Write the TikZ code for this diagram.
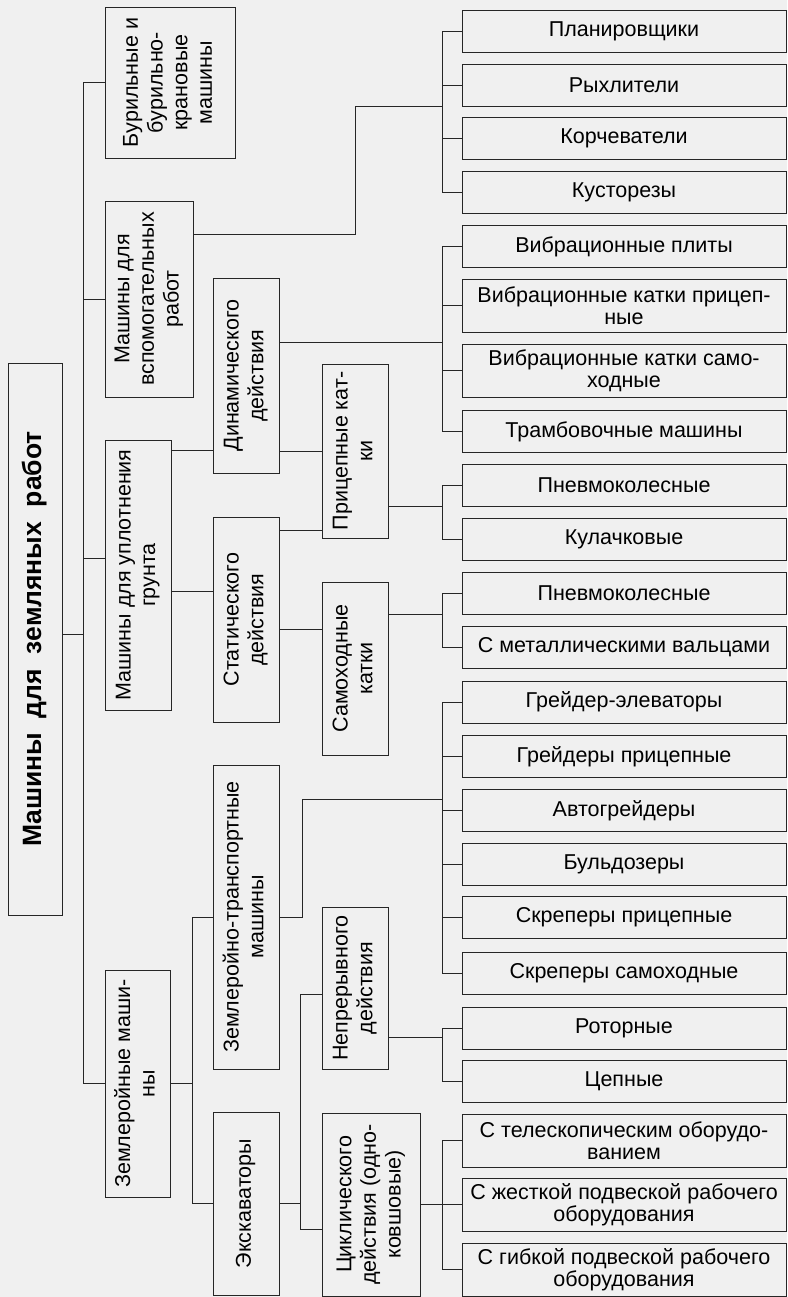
\documentclass[tikz,border=0pt]{standalone}
\usepackage{fontspec}
\setmainfont{Liberation Sans}
\usepackage{graphicx}

\newcommand{\vlab}[1]{\rotatebox{90}{\begin{tabular}{@{}c@{}}#1\end{tabular}}}

\tikzset{
  box/.style={draw=black!85, line width=0.9pt, inner sep=0pt, align=center},
  rbox/.style={box, minimum width=324pt, minimum height=42pt},
  rrbox/.style={rbox, minimum height=53pt},
  link/.style={draw=black!85, line width=0.9pt},
}

\begin{document}
\begin{tikzpicture}[x=1pt, y=-1pt, font=\fontsize{21.5}{22}\selectfont]
    \fill[black!6] (0,0) rectangle (787,1297);
    \useasboundingbox (0,0) rectangle (787,1297);
    \renewcommand{\arraystretch}{1.12}

    % left part, text turned upwards
    \node[box, minimum width=54pt, minimum height=552pt] (root) at (35,639)
        {\vlab{\fontsize{26.5}{28}\selectfont\bfseries Машины\ \ для\ \ земляных\ \ работ}};
    \node[box, minimum width=130pt, minimum height=151pt] (bur) at (170,82.5)
        {\vlab{Бурильные и\\бурильно-\\крановые\\машины}};
    \node[box, minimum width=88pt, minimum height=196pt] (vsp) at (149,299)
        {\vlab{Машины для\\вспомогательных\\работ}};
    \node[box, minimum width=66pt, minimum height=270pt] (upl) at (138,575)
        {\vlab{Машины для уплотнения\\грунта}};
    \node[box, minimum width=65pt, minimum height=227pt] (zem) at (137.5,1083.5)
        {\vlab{Землеройные маши-\\ны}};
    \node[box, minimum width=66pt, minimum height=195pt] (din) at (246,375.5)
        {\vlab{Динамического\\действия}};
    \node[box, minimum width=66pt, minimum height=205pt] (stat) at (246,619.5)
        {\vlab{Статического\\действия}};
    \node[box, minimum width=66pt, minimum height=304pt] (zt) at (246,917)
        {\vlab{Землеройно-транспортные\\машины}};
    \node[box, minimum width=66pt, minimum height=183pt] (exc) at (246,1203.5)
        {\vlab{Экскаваторы}};
    \node[box, minimum width=66pt, minimum height=174pt] (pric) at (355,451)
        {\vlab{Прицепные кат-\\ки}};
    \node[box, minimum width=66pt, minimum height=173pt] (samo) at (355,668.5)
        {\vlab{Самоходные\\катки}};
    \node[box, minimum width=66pt, minimum height=162pt] (nepr) at (355,988)
        {\vlab{Непрерывного\\действия}};
    \node[box, minimum width=98pt, minimum height=183pt] (cikl) at (371,1204.5)
        {\vlab{Циклического\\действия (одно-\\ковшовые)}};

    % right column
    \node[rbox] (r1) at (624,31) {Планировщики};
    \node[rbox] (r2) at (624,85) {Рыхлители};
    \node[rbox] (r3) at (624,138) {Корчеватели};
    \node[rbox] (r4) at (624,192.5) {Кусторезы};
    \node[rbox] (r5) at (624,246.5) {Вибрационные плиты};
    \node[rrbox] (r6) at (624,305.5) {Вибрационные катки прицеп-\\ные};
    \node[rrbox] (r7) at (624,370.5) {Вибрационные катки само-\\ходные};
    \node[rbox] (r8) at (624,431.5) {Трамбовочные машины};
    \node[rbox] (r9) at (624,485.5) {Пневмоколесные};
    \node[rbox] (r10) at (624,539) {Кулачковые};
    \node[rbox] (r11) at (624,593.5) {Пневмоколесные};
    \node[rbox] (r12) at (624,647.5) {С металлическими вальцами};
    \node[rbox] (r13) at (624,702) {Грейдер-элеваторы};
    \node[rbox] (r14) at (624,756.5) {Грейдеры прицепные};
    \node[rbox] (r15) at (624,810.5) {Автогрейдеры};
    \node[rbox] (r16) at (624,864) {Бульдозеры};
    \node[rbox] (r17) at (624,917.5) {Скреперы прицепные};
    \node[rbox] (r18) at (624,973.5) {Скреперы самоходные};
    \node[rbox] (r19) at (624,1028) {Роторные};
    \node[rbox] (r20) at (624,1081) {Цепные};
    \node[rrbox] (r21) at (624,1140.5) {С телескопическим оборудо-\\ванием};
    \node[rrbox] (r22) at (624,1204.5) {С жесткой подвеской рабочего\\оборудования};
    \node[rrbox] (r23) at (624,1269.5) {С гибкой подвеской рабочего\\оборудования};

    \coordinate (trunk) at (83,0);
    \coordinate (rb) at (442,0);
    \coordinate (zx) at (192,0);
    \coordinate (ex) at (300,0);
    \coordinate (vsp-j) at (355,106);
    \coordinate (zt-j) at (302,799);

    % trunk
    \draw[link] ([yshift=5pt]root.east) -- ([yshift=5pt]root.east -| trunk);
    \draw[link] (bur.west) -- (bur.west -| trunk) -- (zem.west -| trunk) -- (zem.west);
    \draw[link] (vsp.west) -- (vsp.west -| trunk);
    \draw[link] ([yshift=17pt]upl.west) -- ([yshift=17pt]upl.west -| trunk);

    % brackets in front of the right column
    \foreach \a/\b in {r1/r4, r5/r8, r9/r10, r11/r12, r13/r18, r19/r20, r21/r23}
        \draw[link] (\a.west) -- (\a.west -| rb) -- (\b.west -| rb) -- (\b.west);
    \foreach \m in {r2, r3, r6, r7, r14, r15, r16, r17, r22}
        \draw[link] (\m.west) -- (\m.west -| rb);

    \draw[link] ([yshift=65pt]vsp.east) -| (vsp-j) -- (vsp-j -| rb);
    \draw[link] ([yshift=-74.5pt]din.west) -- ([yshift=-74.5pt]din.west -| upl.east);
    \draw[link] ([yshift=28.5pt]stat.west) -- ([yshift=28.5pt]stat.west -| upl.east);
    \draw[link] ([yshift=33.5pt]din.east) -- ([yshift=33.5pt]din.east -| rb);
    \draw[link] (pric.west) -- (pric.west -| din.east);
    \draw[link] ([yshift=-79pt]pric.west) -- ([yshift=-79pt]pric.west -| stat.east);
    \draw[link] ([yshift=39.5pt]samo.west) -- ([yshift=39.5pt]samo.west -| stat.east);
    \draw[link] ([yshift=-55pt]pric.east) -- ([yshift=-55pt]pric.east -| rb);
    \draw[link] ([yshift=54.5pt]samo.east) -- ([yshift=54.5pt]samo.east -| rb);

    \draw[link] (zem.east) -- (zem.east -| zx);
    \draw[link] (zt.west) -- (zt.west -| zx) -- (exc.west -| zx) -- (exc.west);
    \draw[link] (zt.east) -| (zt-j) -- (zt-j -| rb);
    \draw[link] (exc.east) -- (exc.east -| ex);
    \draw[link] ([yshift=-6pt]nepr.west) -- ([yshift=-6pt]nepr.west -| ex)
        -- ([yshift=-24.5pt]cikl.west -| ex) -- ([yshift=-24.5pt]cikl.west);
    \draw[link] ([yshift=-49pt]nepr.east) -- ([yshift=-49pt]nepr.east -| rb);
    \draw[link] (cikl.east) -- (cikl.east -| rb);
\end{tikzpicture}
\end{document}
